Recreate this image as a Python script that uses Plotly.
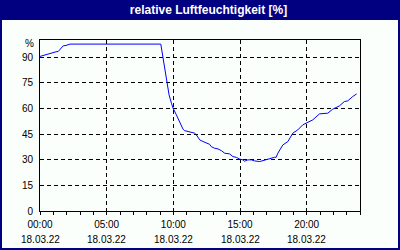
import plotly.graph_objects as go

# time of day in hours (18.03.22)
hours = [0.0, 0.37, 0.75, 0.97, 1.2, 1.37, 1.57, 1.74, 1.95, 2.25, 9.06, 9.13, 9.23, 9.31,
         9.41, 9.53, 9.68, 9.86, 9.98, 10.23, 10.48, 10.73, 10.85, 11.10, 11.48, 11.6,
         11.73, 11.98, 12.23, 12.48, 12.72, 12.85, 13.1, 13.35, 13.6, 13.85, 14.22, 14.47,
         14.72, 14.97, 15.22, 15.34, 15.59, 15.85, 16.09, 16.47, 16.71, 16.97, 17.22, 17.59,
         17.71, 17.84, 18.21, 18.59, 18.96, 19.33, 19.71, 20.0, 20.46, 20.96, 21.58, 21.95,
         22.46, 22.83, 23.08, 23.45, 23.75]
humidity = [90.4, 91.3, 92.3, 92.5, 93.1, 93.3, 94.8, 96.6, 96.8, 97.6, 97.6, 94.3, 89.4, 83.5,
            78.6, 73.8, 67.9, 63.0, 60.1, 56.2, 51.7, 47.8, 47.0, 46.4, 45.8, 45.5,
            44.5, 41.6, 40.6, 39.6, 39.0, 37.6, 36.7, 36.3, 35.3, 33.8, 33.4, 31.8,
            31.4, 30.4, 29.9, 29.1, 29.9, 29.9, 29.3, 28.9, 29.5, 30.3, 30.8, 31.4,
            31.4, 33.8, 38.6, 40.6, 45.5, 47.4, 50.4, 51.7, 53.3, 56.8, 57.2, 59.5,
            61.5, 64.0, 64.4, 66.9, 68.5]

x_tick_vals = [0, 5, 10, 15, 20]
x_tick_times = ["00:00", "05:00", "10:00", "15:00", "20:00"]
x_tick_dates = ["18.03.22", "18.03.22", "18.03.22", "18.03.22", "18.03.22"]
y_tick_vals = [0, 15, 30, 45, 60, 75, 90]
title_text = "relative Luftfeuchtigkeit [%]"
unit_label = "%"

BG = "#FBFFFB"
NAVY = "#000080"
FONT = "Liberation Sans"
FS = 10

fig = go.Figure()
fig.add_trace(go.Scatter(x=hours, y=humidity, mode="lines",
                         line=dict(color="#0000FF", width=1), hoverinfo="skip"))

L, R, T, B = 40, 40, 40, 39
W, H = 400, 250
pw, ph = W - L - R, H - T - B

def px_x(x):
    return (x - L) / pw

def px_y(y):
    return (H - B - y) / ph

annotations = [dict(text=unit_label, xref="paper", yref="y", x=0, y=97.8,
                    xanchor="right", yanchor="middle", xshift=-4, showarrow=False,
                    font=dict(family=FONT, size=FS, color="#000000"))]
for xv, d in zip(x_tick_vals, x_tick_dates):
    annotations.append(dict(text=d, xref="x", yref="paper", x=xv, y=px_y(239),
                            xanchor="center", yanchor="middle", showarrow=False,
                            font=dict(family=FONT, size=FS, color="#000000")))

fig.update_layout(
    width=W, height=H,
    margin=dict(l=L, r=R, t=T, b=B, pad=0),
    paper_bgcolor=NAVY,
    plot_bgcolor=BG,
    showlegend=False,
    font=dict(family=FONT, size=FS, color="#000000"),
    title=dict(text="<b>" + title_text + "</b>", x=(208.5 - L) / pw, xref="paper",
               xanchor="center", y=1 - 9.5 / H, yanchor="middle",
               font=dict(family=FONT, size=12, color="#FFFFFF")),
    shapes=[dict(type="rect", xref="paper", yref="paper", layer="below",
                 x0=px_x(2), x1=px_x(398), y0=px_y(248), y1=px_y(20),
                 fillcolor=BG, line=dict(width=0))],
    annotations=annotations,
)

fig.update_xaxes(
    range=[0, 24], tickmode="array", tickvals=x_tick_vals, ticktext=x_tick_times,
    showgrid=True, gridcolor="#000000", gridwidth=1, griddash="4px,3px",
    showline=True, linecolor="#000000", linewidth=1, mirror=True,
    ticks="outside", ticklen=3, tickcolor="#000000", zeroline=False,
    ticklabelstandoff=1,
    minor=dict(dtick=1, tick0=0, ticks="outside", ticklen=3, tickcolor="#000000", showgrid=False),
    tickfont=dict(family=FONT, size=FS), fixedrange=True,
)
fig.update_yaxes(
    range=[0, 100], tickmode="array", tickvals=y_tick_vals,
    showgrid=True, gridcolor="#000000", gridwidth=1, griddash="4px,3px",
    showline=True, linecolor="#000000", linewidth=1, mirror=True,
    ticks="", ticklabelstandoff=4, zeroline=False,
    tickfont=dict(family=FONT, size=FS), fixedrange=True,
)

fig.write_html("out.html", config=dict(displayModeBar=False))
